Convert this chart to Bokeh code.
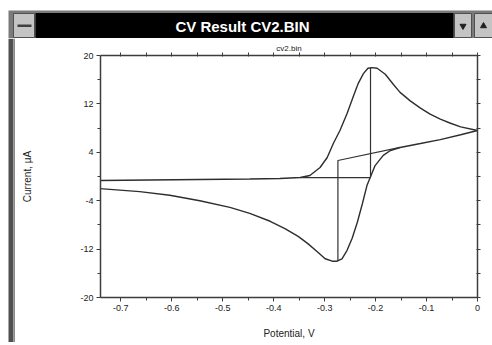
from bokeh.plotting import figure
from bokeh.layouts import column, row
from bokeh.models import Range1d, LinearAxis, FixedTicker, Title
from bokeh.core.properties import value
from bokeh.embed import file_html
from bokeh.resources import INLINE

# ---------------- data ----------------
potential_fwd = [-0.742, -0.644, -0.545, -0.447, -0.388, -0.348, -0.329, -0.309, -0.295,
                 -0.283, -0.270, -0.256, -0.244, -0.234, -0.224, -0.215, -0.207, -0.197,
                 -0.181, -0.165, -0.152, -0.132, -0.112, -0.093, -0.073, -0.053, -0.033, 0.0]
current_fwd = [-0.66, -0.58, -0.50, -0.41, -0.33, -0.17, 0.17, 1.49, 3.14,
               5.45, 7.6, 10.4, 13.2, 15.4, 17.0, 17.9, 18.0, 17.9,
               16.9, 15.2, 13.9, 12.5, 11.3, 10.3, 9.5, 8.8, 8.2, 7.6]

potential_rev = [0.0, -0.033, -0.073, -0.112, -0.152, -0.171, -0.185, -0.201, -0.217,
                 -0.226, -0.236, -0.246, -0.256, -0.266, -0.276, -0.285, -0.299, -0.315,
                 -0.333, -0.352, -0.378, -0.407, -0.447, -0.486, -0.545, -0.604, -0.663, -0.742]
current_rev = [7.6, 6.9, 6.1, 5.45, 4.8, 4.3, 3.5, 1.8, -1.5,
               -4.5, -7.6, -10.2, -12.2, -13.6, -14.0, -14.0, -13.6, -12.4,
               -11.1, -9.9, -8.6, -7.4, -6.1, -5.1, -4.0, -3.1, -2.5, -2.0]

anodic_base_x = [-0.348, -0.21, -0.21]
anodic_base_y = [-0.17, -0.17, 18.0]
cathodic_base_x = [-0.152, -0.274, -0.274]
cathodic_base_y = [4.8, 2.64, -14.0]

x_major = [-0.7, -0.6, -0.5, -0.4, -0.3, -0.2, -0.1, 0.0]
x_labels = ["-0.7", "-0.6", "-0.5", "-0.4", "-0.3", "-0.2", "-0.1", "0"]
x_minor = [-0.65, -0.55, -0.45, -0.35, -0.25, -0.15, -0.05]
y_major = [20, 12, 4, -4, -12, -20]
y_labels = ["20", "12", "4", "-4", "-12", "-20"]
y_minor = [16, 8, 0, -8, -16]

window_title = "CV Result CV2.BIN"
chart_title = "cv2.bin"
x_title = "Potential, V"
y_title = "Current, \u00b5A"

FONT = "Liberation Sans"
AX = "#3c3c3c"


def chrome(w, h, bg):
    f = figure(width=w, height=h, output_backend="svg", toolbar_location=None,
               x_range=Range1d(0, w), y_range=Range1d(h, 0), min_border=0,
               x_axis_type=None, y_axis_type=None)
    f.outline_line_color = None
    f.background_fill_color = bg
    f.border_fill_color = bg
    f.grid.visible = False
    f.frame_align = False
    return f


# ---------------- title bar (page coords, incl. 8px white margin) ----------------
tb = chrome(492, 38, "white")
tb.quad(left=[8], right=[492], top=[10], bottom=[38], fill_color="#7a7a7a", line_color=None)
tb.quad(left=[35], right=[453], top=[12.5], bottom=[37.5], fill_color="black", line_color=None)
tb.quad(left=[13], right=[34], top=[13], bottom=[37], fill_color="#c4c4c4", line_color="#505050")
tb.quad(left=[17], right=[31], top=[24], bottom=[26.5], fill_color="#404040", line_color=None)
tb.quad(left=[454], right=[471], top=[13], bottom=[37], fill_color="#c4c4c4", line_color="#505050")
tb.quad(left=[474], right=[492], top=[13], bottom=[37], fill_color="#c4c4c4", line_color="#505050")
tb.scatter(x=[462.5], y=[25.5], marker="inverted_triangle", size=6, color="#202020")
tb.scatter(x=[483], y=[25.5], marker="triangle", size=6, color="#202020")
tb.text(x=[242], y=[25.5], text=[window_title], text_color="white",
        text_font=value(FONT), text_font_style="bold", text_font_size="15px",
        text_align="center", text_baseline="middle")

# ---------------- left border ----------------
lb = chrome(15, 304, "white")
lb.quad(left=[8], right=[12.7], top=[0], bottom=[304], fill_color="#505050", line_color=None)
lb.quad(left=[12.7], right=[15], top=[0], bottom=[304], fill_color="#8c8c8c", line_color=None)

# ---------------- bottom border ----------------
bs = chrome(492, 3, "white")
bs.quad(left=[8], right=[492], top=[0], bottom=[3], fill_color="#6a6a6a", line_color=None)

# ---------------- main chart ----------------
p = figure(width=477, height=304, output_backend="svg", toolbar_location=None,
           x_range=Range1d(-0.74, 0.0), y_range=Range1d(-20, 20),
           min_border_left=85, min_border_right=15, min_border_top=17, min_border_bottom=45,
           x_axis_type=None, y_axis_type=None)
p.frame_align = False
p.title = Title(text=chart_title, align="center", text_font=FONT, text_font_size="8px",
                text_font_style="normal", text_color="#222222", standoff=0, offset=0)
p.outline_line_color = None
p.background_fill_color = "white"
p.border_fill_color = "white"
p.grid.visible = False

xb = LinearAxis(ticker=FixedTicker(ticks=x_major, minor_ticks=x_minor),
                axis_label=x_title)
xb.major_label_overrides = {v: s for v, s in zip(x_major, x_labels)}
yl = LinearAxis(ticker=FixedTicker(ticks=y_major, minor_ticks=y_minor),
                axis_label=y_title)
yl.major_label_overrides = {v: s for v, s in zip(y_major, y_labels)}
# top / right: tick marks only (all as minor ticks, so no labels are drawn)
xt = LinearAxis(ticker=FixedTicker(ticks=[], minor_ticks=sorted(x_major + x_minor)))
yr = LinearAxis(ticker=FixedTicker(ticks=[], minor_ticks=sorted(y_major + y_minor)))

for ax in (xb, yl, xt, yr):
    ax.axis_line_color = AX
    ax.axis_line_width = 1.5
    ax.major_tick_line_color = AX
    ax.minor_tick_line_color = AX
    ax.major_tick_line_width = 1
    ax.minor_tick_line_width = 1
    ax.major_tick_in = 0
    ax.minor_tick_in = 0
    ax.major_label_text_font = FONT
    ax.major_label_text_font_size = "9px"
    ax.major_label_text_color = "#222222"
    ax.axis_label_text_font = FONT
    ax.axis_label_text_font_size = "10px"
    ax.axis_label_text_font_style = "normal"
    ax.axis_label_text_color = "#222222"

xb.major_tick_out = 4
xb.minor_tick_out = 3
xb.major_label_standoff = 3
xb.axis_label_standoff = 14
yl.major_tick_out = 4
yl.minor_tick_out = 3
yl.major_label_standoff = 3
yl.axis_label_standoff = 44
for ax in (xt, yr):
    ax.major_tick_out = 3
    ax.minor_tick_out = 3
    ax.minor_tick_in = 1
    ax.major_label_standoff = 0

p.add_layout(xb, "below")
p.add_layout(yl, "left")
p.add_layout(xt, "above")
p.add_layout(yr, "right")

CURVE = "#2e2e2e"
p.line(potential_fwd, current_fwd, line_color=CURVE, line_width=1.4)
p.line(potential_rev, current_rev, line_color=CURVE, line_width=1.4)
p.line(anodic_base_x, anodic_base_y, line_color="#333333", line_width=1.2)
p.line(cathodic_base_x, cathodic_base_y, line_color="#333333", line_width=1.2)

layout = column(tb, row(lb, p), bs)
open("out.html", "w").write(file_html(layout, INLINE))
